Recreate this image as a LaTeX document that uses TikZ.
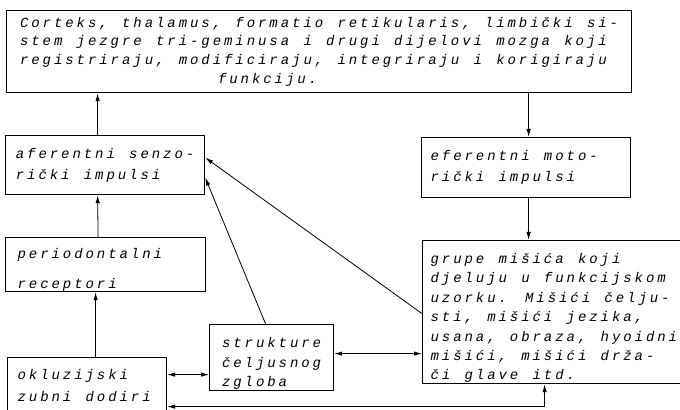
\documentclass[tikz,border=0pt]{standalone}
\usepackage{fontspec}
\usetikzlibrary{arrows.meta}
\newfontfamily\typer[LetterSpace=21]{Liberation Mono}
\newcommand{\tw}{\typer\itshape}
\newcommand{\gaps}{\fontdimen2\font=7.14pt\fontdimen3\font=0pt\fontdimen4\font=0pt}
\newcommand{\padline}[2]{\makebox[#1][l]{#2}}
\newcommand{\lift}[1]{\rule{0pt}{#1}}

\begin{document}
\begin{tikzpicture}[x=0.5pt,y=-0.5pt,>={Latex[length=4pt,width=2.2pt]},
	box/.style={draw,line width=0.6pt,anchor=north west,inner sep=0pt,align=left},
	lines/.style={font=\tw\fontsize{7}{#1}\selectfont\gaps}]
			\useasboundingbox (0,0) rectangle (680,410);
			%brain
			\node [box,lines=9.35pt,minimum width=312.5pt,minimum height=41pt] at (6,10) (brain) {Corteks, thalamus, formatio retikularis, limbički si-\\stem jezgre tri-geminusa i drugi dijelovi mozga koji\\registriraju, modificiraju, integriraju i korigiraju\\\hspace*{99pt}funkciju.};
			%afferent / efferent
			\node [box,lines=10.5pt,minimum width=99.5pt,minimum height=29.5pt] at (5,135) (afer) {aferentni senzo-\\rički impulsi};
			\node [box,lines=10.5pt,minimum width=104.5pt,minimum height=30pt] at (421,137) (efer) {\padline{95.5pt}{eferentni moto-}\\rički impulsi};
			%muscles
			\node [box,lines=9.7pt,minimum width=134pt,minimum height=71.5pt] at (422,240) (muscles) {\padline{126pt}{\lift{11pt}grupe mišića koji}\\djeluju u funkcijskom\\uzorku. Mišići čelju-\\sti, mišići jezika,\\usana, obraza, hyoidni\\mišići, mišići drža-\\či glave itd.};
			%receptors
			\node [box,lines=15pt,minimum width=100pt,minimum height=27pt] at (5,237) (perio) {\padline{88pt}{\lift{10pt}periodontalni}\\receptori};
			\node [box,lines=11.25pt,minimum width=79.5pt,minimum height=28pt] at (7,357) (occl) {\padline{69.5pt}{okluzijski}\\zubni dodiri};
			\node [box,lines=9.75pt,minimum width=62pt,minimum height=33pt] at (209,324) (joint) {\lift{11pt}strukture\\čeljusnog\\zgloba};

			%vertical arrows
			\draw [->] ([xshift=-3.75pt]afer.north) -- ([xshift=-3.75pt]afer.north |- brain.south);
			\draw [->] ([xshift=-3.75pt]perio.north) -- ([xshift=-3.75pt]afer.south);
			\draw [->] ([xshift=4.25pt]occl.north) -- ([xshift=4.25pt]occl.north |- perio.south);
			\draw [->] ([xshift=1.25pt]efer.north |- brain.south) -- ([xshift=1.25pt]efer.north);
			\draw [->] ([xshift=1.25pt]efer.south) -- ([xshift=1.25pt]efer.south |- muscles.north);
			%feedback
			\draw [<->] ([yshift=5.5pt]occl.east) -- ([yshift=5.5pt]occl.east -| joint.west);
			\draw [<->] ([yshift=2pt]joint.east) -- ([yshift=2pt]joint.east -| muscles.west);
			\draw [<->] ([xshift=-6pt]muscles.south) |- ([yshift=-10.5pt]occl.east);
			\draw [->] ([yshift=-0.75pt]muscles.west) -- ([yshift=3.75pt]afer.east);
			\draw [->] ([xshift=-3pt]joint.north) -- ([yshift=-6.25pt]afer.east);
\end{tikzpicture}
\end{document}
